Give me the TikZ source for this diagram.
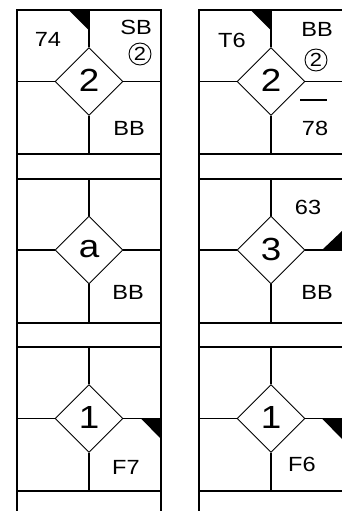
\documentclass[tikz,border=0pt]{standalone}
\usepackage{fontspec}
\setmainfont{Liberation Sans}[FakeStretch=1.15]
\usetikzlibrary{shapes.geometric}
\begin{document}
\begin{tikzpicture}[x=1pt,y=-1pt,
  outer/.style={line width=2pt},
  inner/.style={line width=1.6pt},
  dia/.style={diamond, draw, line width=0.9pt, minimum width=68pt, minimum height=68pt, inner sep=0pt, font=\fontsize{32}{32}\selectfont},
  lbl/.style={font=\fontsize{20.5}{20.5}\selectfont, inner sep=0pt},
  circ/.style={circle, draw, line width=0.9pt, minimum size=22pt, inner sep=0pt, font=\fontsize{19}{19}\selectfont},
  tri/.style={fill=black, draw=none}]
\useasboundingbox (0,0) rectangle (342,511);
\clip (0,0) rectangle (342,511);
% column frames
\foreach \col/\xl/\xr in {L/17/161, R/199/342.5}{
  \coordinate (\col-tl) at (\xl,10);
  \coordinate (\col-tr) at (\xr,10);
  \coordinate (\col-bl) at (\xl,520);
  \coordinate (\col-br) at (\xr,520);
  \draw[outer] (\col-bl) -- (\col-tl) -- (\col-tr) -- (\col-br);
  \foreach \r/\T in {1/10, 2/178.5, 3/347}{
    \coordinate (\col\r-sl) at (\xl,\T+144);
    \coordinate (\col\r-sr) at (\xr,\T+144);
    \coordinate (\col\r-nl) at (\xl,\T+168.5);
    \coordinate (\col\r-nr) at (\xr,\T+168.5);
    \draw[outer] (\col\r-sl) -- (\col\r-sr);
    \draw[outer] (\col\r-nl) -- (\col\r-nr);
  }
}
% cells: diamonds and cross lines
\foreach \n/\cx/\xl/\xr/\T/\txt in {L1/89/17/161/10/2, R1/271/199/342.5/10/2, L2/89/17/161/178.5/a, R2/271/199/342.5/178.5/3, L3/89/17/161/347/1, R3/271/199/342.5/347/1}{
  \node[dia] (d\n) at (\cx,\T+71.5) {\raisebox{2pt}{\txt}};
  \coordinate (\n-t) at (\cx,\T);
  \coordinate (\n-b) at (\cx,\T+144);
  \coordinate (\n-l) at (\xl,\T+71.5);
  \coordinate (\n-r) at (\xr,\T+71.5);
  \draw[inner] (\n-t) -- (d\n.north);
  \draw[inner] (d\n.south) -- (\n-b);
  \draw[inner] (\n-l) -- (d\n.west);
  \draw[inner] (d\n.east) -- (\n-r);
}
% black corner triangles
\fill[tri] (68.5,10) -- (89,10) -- (89,30.5) -- cycle;
\fill[tri] (250.5,10) -- (271,10) -- (271,30.5) -- cycle;
\fill[tri] (322,250) -- (342,250) -- (342,231) -- cycle;
\fill[tri] (141,418.5) -- (161,418.5) -- (161,439) -- cycle;
\fill[tri] (322,418.5) -- (342,418.5) -- (342,439) -- cycle;
% labels
\node[lbl] (l74) at (48,39) {74};
\node[lbl] (lSB) at (136,27) {SB};
\node[circ] (c1) at (140,54) {2};
\node[lbl] (lBB1) at (129,128) {BB};
\node[lbl] (lT6) at (232,40) {T6};
\node[lbl] (lBB2) at (317,29) {BB};
\node[circ] (c2) at (316,60) {2};
\coordinate (bar-a) at (300,100);
\coordinate (bar-b) at (327,100);
\draw[line width=2pt] (bar-a) -- (bar-b);
\node[lbl] (l78) at (315,128) {78};
\node[lbl] (lBB3) at (128,292) {BB};
\node[lbl] (l63) at (308,207) {63};
\node[lbl] (lBB4) at (317,292) {BB};
\node[lbl] (lF7) at (126,467) {F7};
\node[lbl] (lF6) at (302,464) {F6};
\end{tikzpicture}
\end{document}
